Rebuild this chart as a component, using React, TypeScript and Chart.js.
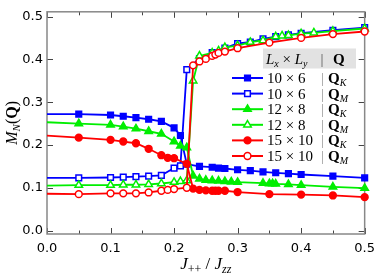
import React, { useEffect, useRef } from "react";
import { Chart, registerables } from "chart.js";

Chart.register(...registerables);

// ---- data ----
const J_BLUE_K = [0, 0.05, 0.10, 0.12, 0.14, 0.16, 0.18, 0.20, 0.21, 0.22, 0.24, 0.26, 0.27, 0.28, 0.30, 0.32, 0.34, 0.36, 0.38, 0.40, 0.45, 0.50];
const M_BLUE_K = [0.272, 0.272, 0.270, 0.267, 0.264, 0.260, 0.255, 0.240, 0.222, 0.155, 0.150, 0.148, 0.146, 0.145, 0.142, 0.140, 0.137, 0.135, 0.133, 0.131, 0.127, 0.123];

const J_BLUE_M = [0, 0.05, 0.10, 0.12, 0.14, 0.16, 0.18, 0.20, 0.21, 0.22, 0.24, 0.26, 0.28, 0.30, 0.32, 0.34, 0.36, 0.38, 0.40, 0.45, 0.50];
const M_BLUE_M = [0.123, 0.123, 0.124, 0.125, 0.126, 0.127, 0.129, 0.146, 0.151, 0.376, 0.402, 0.416, 0.426, 0.437, 0.440, 0.448, 0.453, 0.457, 0.461, 0.468, 0.474];

const J_GREEN_K = [0, 0.05, 0.10, 0.12, 0.14, 0.16, 0.18, 0.20, 0.21, 0.22, 0.23, 0.24, 0.25, 0.26, 0.27, 0.28, 0.29, 0.30, 0.34, 0.35, 0.355, 0.36, 0.38, 0.40, 0.45, 0.50];
const M_GREEN_K = [0.253, 0.250, 0.247, 0.243, 0.238, 0.232, 0.226, 0.208, 0.198, 0.194, 0.128, 0.121, 0.118, 0.117, 0.116, 0.115, 0.114, 0.113, 0.111, 0.110, 0.110, 0.109, 0.108, 0.106, 0.102, 0.099];

const J_GREEN_M = [0, 0.05, 0.10, 0.12, 0.14, 0.16, 0.18, 0.20, 0.21, 0.22, 0.23, 0.24, 0.26, 0.27, 0.28, 0.30, 0.32, 0.34, 0.36, 0.37, 0.38, 0.40, 0.42, 0.45, 0.50];
const M_GREEN_M = [0.105, 0.106, 0.106, 0.107, 0.107, 0.108, 0.110, 0.113, 0.115, 0.117, 0.350, 0.408, 0.415, 0.420, 0.428, 0.432, 0.440, 0.444, 0.453, 0.455, 0.456, 0.460, 0.462, 0.466, 0.472];

const J_RED_K = [0, 0.05, 0.10, 0.12, 0.14, 0.16, 0.18, 0.19, 0.20, 0.22, 0.23, 0.24, 0.25, 0.26, 0.265, 0.27, 0.28, 0.30, 0.35, 0.40, 0.45, 0.50];
const M_RED_K = [0.222, 0.217, 0.212, 0.208, 0.204, 0.191, 0.176, 0.170, 0.169, 0.156, 0.098, 0.095, 0.094, 0.093, 0.093, 0.093, 0.093, 0.090, 0.085, 0.084, 0.082, 0.078];

const J_RED_M = [0, 0.05, 0.10, 0.12, 0.14, 0.16, 0.18, 0.19, 0.20, 0.22, 0.23, 0.24, 0.25, 0.26, 0.265, 0.27, 0.28, 0.30, 0.35, 0.40, 0.45, 0.50];
const M_RED_M = [0.086, 0.085, 0.087, 0.087, 0.087, 0.089, 0.093, 0.095, 0.097, 0.100, 0.386, 0.395, 0.401, 0.408, 0.411, 0.415, 0.418, 0.426, 0.439, 0.450, 0.459, 0.465];

const X_TICKS = [0, 0.1, 0.2, 0.3, 0.4, 0.5];
const X_MINOR = [0.05, 0.15, 0.25, 0.35, 0.45];
const Y_TICKS = [0, 0.1, 0.2, 0.3, 0.4, 0.5];

const LEGEND_SIZES = ["10 × 6", "10 × 6", "12 × 8", "12 × 8", "15 × 10", "15 × 10"];
const LEGEND_Q = ["K", "M", "K", "M", "K", "M"];

const BLUE = "#0000ff";
const GREEN = "#00ee00";
const RED = "#ff0000";

type Part = { t: string; f: string; dy?: number; c?: string };

function richWidth(ctx: CanvasRenderingContext2D, parts: Part[]) {
  let w = 0;
  for (const p of parts) {
    ctx.font = p.f;
    w += ctx.measureText(p.t).width;
  }
  return w;
}

function drawRich(ctx: CanvasRenderingContext2D, parts: Part[], x: number, y: number, align: "left" | "center") {
  const w = richWidth(ctx, parts);
  let cx = align === "center" ? x - w / 2 : x;
  ctx.textAlign = "left";
  ctx.textBaseline = "alphabetic";
  for (const p of parts) {
    ctx.font = p.f;
    ctx.fillStyle = p.c || "#000";
    ctx.fillText(p.t, cx, y + (p.dy || 0));
    cx += ctx.measureText(p.t).width;
  }
}

function drawMarker(ctx: CanvasRenderingContext2D, style: string, x: number, y: number, r: number, color: string, filled: boolean) {
  ctx.save();
  ctx.beginPath();
  if (style === "rect") {
    const s = Math.SQRT1_2 * r;
    ctx.rect(x - s, y - s, 2 * s, 2 * s);
  } else if (style === "circle") {
    ctx.arc(x, y, r, 0, Math.PI * 2);
  } else {
    const h = r * 1.5;
    const half = r * Math.sqrt(3) / 2;
    ctx.moveTo(x, y - r);
    ctx.lineTo(x + half, y - r + h);
    ctx.lineTo(x - half, y - r + h);
    ctx.closePath();
  }
  ctx.fillStyle = filled ? color : "#fff";
  ctx.fill();
  ctx.lineWidth = 1.5;
  ctx.strokeStyle = color;
  ctx.stroke();
  ctx.restore();
}

const SERIES = [
  { J: J_BLUE_K, M: M_BLUE_K, color: BLUE, style: "rect", r: 4, filled: true, order: 5 },
  { J: J_BLUE_M, M: M_BLUE_M, color: BLUE, style: "rect", r: 4, filled: false, order: 4 },
  { J: J_GREEN_K, M: M_GREEN_K, color: GREEN, style: "triangle", r: 4.3, filled: true, order: 3 },
  { J: J_GREEN_M, M: M_GREEN_M, color: GREEN, style: "triangle", r: 4.3, filled: false, order: 2 },
  { J: J_RED_K, M: M_RED_K, color: RED, style: "circle", r: 3.4, filled: true, order: 1 },
  { J: J_RED_M, M: M_RED_M, color: RED, style: "circle", r: 3.4, filled: false, order: 0 },
];

const framePlugin = {
  id: "frameTicks",
  beforeDatasetsDraw(chart: any) {
    const { ctx, chartArea: a, scales } = chart;
    const xs = scales.x, ys = scales.y;
    ctx.save();
    ctx.strokeStyle = "#444";
    ctx.lineWidth = 1;
    const major = 6, minor = 3.5;
    ctx.beginPath();
    for (const v of X_TICKS) {
      const px = Math.round(xs.getPixelForValue(v)) + 0.5;
      ctx.moveTo(px, a.bottom); ctx.lineTo(px, a.bottom - major);
      ctx.moveTo(px, a.top); ctx.lineTo(px, a.top + major);
    }
    for (const v of X_MINOR) {
      const px = Math.round(xs.getPixelForValue(v)) + 0.5;
      ctx.moveTo(px, a.bottom); ctx.lineTo(px, a.bottom - minor);
      ctx.moveTo(px, a.top); ctx.lineTo(px, a.top + minor);
    }
    for (const v of Y_TICKS) {
      const py = Math.round(ys.getPixelForValue(v)) + 0.5;
      ctx.moveTo(a.left, py); ctx.lineTo(a.left + major, py);
      ctx.moveTo(a.right, py); ctx.lineTo(a.right - major, py);
    }
    ctx.stroke();
    ctx.strokeStyle = "#888";
    ctx.lineWidth = 1.5;
    ctx.strokeRect(a.left, a.top, a.right - a.left, a.bottom - a.top);
    ctx.restore();
  },
  afterDraw(chart: any) {
    const { ctx, chartArea: a } = chart;
    ctx.save();
    const serif = "'Liberation Serif', 'DejaVu Serif', serif";
    // x title
    const xt: Part[] = [
      { t: "J", f: `italic 17px ${serif}` },
      { t: "++", f: `12px ${serif}`, dy: 3.5 },
      { t: " / ", f: `17px ${serif}` },
      { t: "J", f: `italic 17px ${serif}` },
      { t: "zz", f: `italic 12px ${serif}`, dy: 3.5 },
    ];
    drawRich(ctx, xt, (a.left + a.right) / 2, 269, "center");
    // y title
    ctx.save();
    ctx.translate(17, (a.top + a.bottom) / 2);
    ctx.rotate(-Math.PI / 2);
    const yt: Part[] = [
      { t: "M", f: `italic 16px ${serif}` },
      { t: "N", f: `italic 11px ${serif}`, dy: 3 },
      { t: "(", f: `16px ${serif}` },
      { t: "Q", f: `bold 16px ${serif}` },
      { t: ")", f: `16px ${serif}` },
    ];
    drawRich(ctx, yt, 0, 0, "center");
    ctx.restore();

    // legend header
    ctx.fillStyle = "#e2e2e2";
    ctx.fillRect(263, 48.5, 93, 20);
    drawRich(ctx, [
      { t: "L", f: `italic 15px ${serif}` },
      { t: "x", f: `italic 10px ${serif}`, dy: 3 },
      { t: " × ", f: `15px ${serif}` },
      { t: "L", f: `italic 15px ${serif}` },
      { t: "y", f: `italic 10px ${serif}`, dy: 3 },
    ], 266, 63.5, "left");
    drawRich(ctx, [{ t: "|", f: `15px ${serif}`, c: "#555" }], 320.5, 63.5, "left");
    drawRich(ctx, [{ t: "Q", f: `bold 15px ${serif}` }], 333, 63.5, "left");

    // legend rows
    for (let i = 0; i < SERIES.length; i++) {
      const s = SERIES[i];
      const y = 78 + i * 15.6;
      ctx.strokeStyle = s.color;
      ctx.lineWidth = 2;
      ctx.beginPath();
      ctx.moveTo(232, y); ctx.lineTo(263, y);
      ctx.stroke();
      drawMarker(ctx, s.style, 247.5, y, s.r, s.color, s.filled);
      drawRich(ctx, [{ t: LEGEND_SIZES[i], f: `15px ${serif}` }], 267, y + 5, "left");
      drawRich(ctx, [{ t: "|", f: `15px ${serif}`, c: "#999" }], 321, y + 5, "left");
      drawRich(ctx, [
        { t: "Q", f: `bold 15px ${serif}` },
        { t: LEGEND_Q[i], f: `italic 10px ${serif}`, dy: 3 },
      ], 328, y + 5, "left");
    }
    ctx.restore();
  },
};

export default function App() {
  const ref = useRef<HTMLCanvasElement | null>(null);
  useEffect(() => {
    if (!ref.current) return;
    const datasets = SERIES.map((s) => ({
      data: s.J.map((x, i) => ({ x, y: s.M[i] })),
      borderColor: s.color,
      backgroundColor: s.filled ? s.color : "#ffffff",
      borderWidth: 1.8,
      pointStyle: s.style,
      pointRadius: (c: any) => (c.raw && c.raw.x === 0 ? 0 : s.r),
      pointBorderWidth: 1.5,
      pointBackgroundColor: s.filled ? s.color : "#ffffff",
      pointBorderColor: s.color,
      tension: 0,
      clip: false as any,
      order: s.order,
    }));
    const tickFont = { family: "'DejaVu Sans', 'Liberation Sans', sans-serif", size: 13 };
    const chart = new Chart(ref.current, {
      type: "line",
      data: { datasets: datasets as any },
      plugins: [framePlugin as any],
      options: {
        animation: false,
        responsive: false,
        maintainAspectRatio: false,
        layout: { padding: { top: 1, right: 11, left: 0, bottom: 0 } },
        plugins: { legend: { display: false }, tooltip: { enabled: false } },
        scales: {
          x: {
            type: "linear",
            min: 0,
            max: 0.5,
            grid: { display: false, drawTicks: false },
            border: { display: false },
            afterBuildTicks: (sc: any) => { sc.ticks = X_TICKS.map((v) => ({ value: v })); },
            afterFit: (sc: any) => { sc.height = 40; },
            ticks: { font: tickFont, color: "#000", padding: 7, maxRotation: 0, callback: (v: any) => Number(v).toFixed(1) },
          },
          y: {
            type: "linear",
            min: -0.008,
            max: 0.511,
            grid: { display: false, drawTicks: false },
            border: { display: false },
            afterBuildTicks: (sc: any) => { sc.ticks = Y_TICKS.map((v) => ({ value: v })); },
            afterFit: (sc: any) => { sc.width = 47; },
            ticks: { font: tickFont, color: "#000", padding: 4, callback: (v: any) => Number(v).toFixed(1) },
          },
        },
      },
    });
    return () => chart.destroy();
  }, []);
  return (
    <div style={{ position: "fixed", left: 0, top: 0, width: 382, height: 274, background: "#fff" }}>
      <canvas ref={ref} width={382} height={274} style={{ width: 382, height: 274, display: "block" }} />
    </div>
  );
}
